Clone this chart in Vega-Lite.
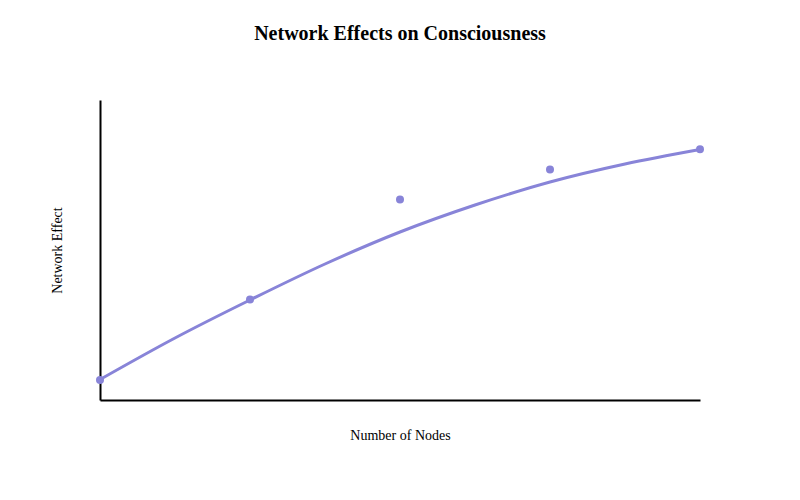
{
  "$schema": "https://vega.github.io/schema/vega-lite/v6.json",
  "width": 600,
  "height": 300,
  "autosize": {"type": "none"},
  "padding": {"left": 100, "top": 100, "right": 100, "bottom": 100},
  "background": "white",
  "title": {
    "text": "Network Effects on Consciousness",
    "font": "Liberation Serif",
    "fontSize": 20,
    "fontWeight": "bold",
    "color": "#000000",
    "anchor": "middle",
    "baseline": "alphabetic",
    "offset": 40
  },
  "config": {"view": {"stroke": null}},
  "datasets": {
    "points": [
      {"nodes": 1, "effect": 20},
      {"nodes": 2, "effect": 100.5},
      {"nodes": 3, "effect": 200.5},
      {"nodes": 4, "effect": 230.5},
      {"nodes": 5, "effect": 250.7}
    ],
    "curve": [
      {"nodes": 1, "effect": 20.5},
      {"nodes": 1.5, "effect": 62},
      {"nodes": 2, "effect": 100},
      {"nodes": 2.5, "effect": 136},
      {"nodes": 3, "effect": 168},
      {"nodes": 3.5, "effect": 195},
      {"nodes": 4, "effect": 218},
      {"nodes": 4.5, "effect": 236},
      {"nodes": 5, "effect": 250.5}
    ]
  },
  "encoding": {
    "x": {
      "field": "nodes",
      "type": "quantitative",
      "scale": {"domain": [1, 5], "nice": false, "zero": false},
      "axis": {
        "title": "Number of Nodes",
        "labels": false,
        "ticks": false,
        "grid": false,
        "domainColor": "#000000",
        "domainWidth": 2,
        "titleFont": "Liberation Serif",
        "titleFontSize": 14,
        "titleFontWeight": "normal",
        "titleColor": "#000000",
        "titlePadding": 28
      }
    },
    "y": {
      "field": "effect",
      "type": "quantitative",
      "scale": {"domain": [0, 300], "nice": false},
      "axis": {
        "title": "Network Effect",
        "labels": false,
        "ticks": false,
        "grid": false,
        "domainColor": "#000000",
        "domainWidth": 2,
        "titleFont": "Liberation Serif",
        "titleFontSize": 14,
        "titleFontWeight": "normal",
        "titleColor": "#000000",
        "titlePadding": 36
      }
    }
  },
  "layer": [
    {
      "data": {"name": "curve"},
      "mark": {"type": "line", "color": "#8884d8", "strokeWidth": 3, "interpolate": "monotone"}
    },
    {
      "data": {"name": "points"},
      "mark": {"type": "point", "filled": true, "color": "#8884d8", "size": 64, "opacity": 1}
    }
  ]
}
